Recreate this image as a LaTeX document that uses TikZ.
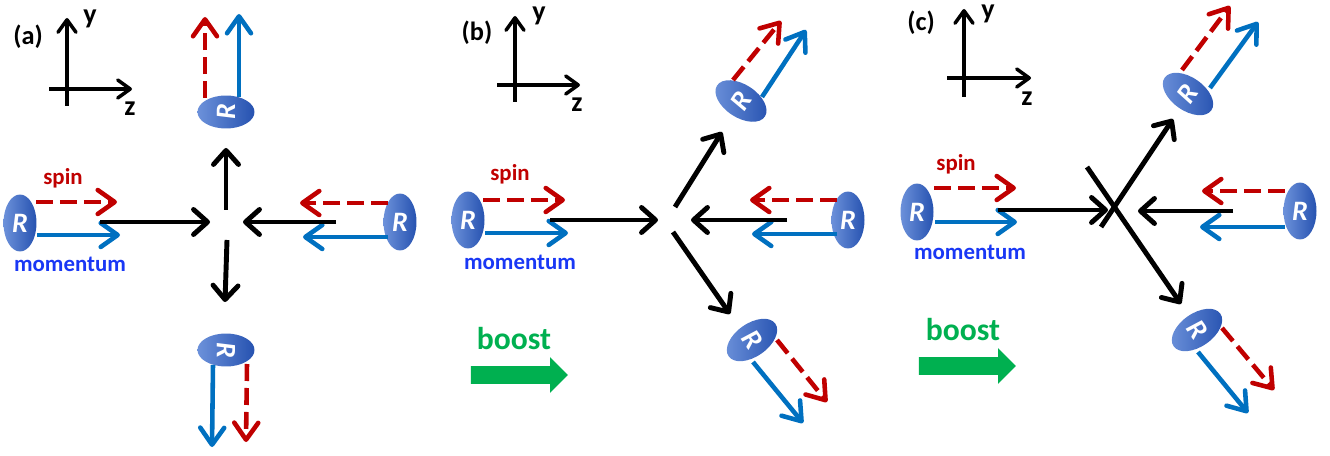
\documentclass[tikz,border=0pt]{standalone}
\usepackage{fontspec}
\setmainfont{Carlito}
\usetikzlibrary{positioning,arrows.meta,shapes.geometric,shapes.arrows}

\definecolor{spinred}{RGB}{192,0,0}
\definecolor{momblue}{RGB}{0,112,192}
\definecolor{labelblue}{RGB}{25,55,245}
\definecolor{boostgreen}{RGB}{0,176,80}
\definecolor{partlight}{RGB}{108,145,218}
\definecolor{partdark}{RGB}{38,82,176}

\begin{document}
\begin{tikzpicture}[
x=0.02cm,y=-0.02cm,
particle/.style={
ellipse,
minimum width=0.66cm,
minimum height=1.14cm,
inner sep=0pt,
left color=partlight,
right color=partdark,
text=white,
font=\fontsize{16}{16}\selectfont\bfseries\itshape
},
flowarrow/.style={
line width=2.8pt,
-{Straight Barb[length=2.8mm,width=5mm,round]}
},
spinarrow/.style={
spinred,
line width=2.6pt,
dash pattern=on 0.34cm off 0.14cm,
-{Straight Barb[length=3.4mm,width=4.8mm,round]}
},
momarrow/.style={
momblue,
line width=2.6pt,
-{Straight Barb[length=3.4mm,width=4.8mm,round]}
},
axisarrow/.style={
line width=2pt,
-{Straight Barb[length=2.5mm,width=3.6mm,round]}
},
panellabel/.style={font=\fontsize{15}{15}\selectfont\bfseries},
axislabel/.style={font=\fontsize{16}{16}\selectfont\bfseries},
spinlabel/.style={text=spinred,font=\fontsize{13}{13}\selectfont\bfseries},
momlabel/.style={text=labelblue,font=\fontsize{13}{13}\selectfont\bfseries},
boostlabel/.style={text=boostgreen,font=\fontsize{18}{18}\selectfont\bfseries},
boostarrow/.style={
single arrow,
fill=boostgreen,
minimum height=1.94cm,
inner xsep=0pt,
inner ysep=0.17cm,
single arrow head extend=0.18cm
}
]

\useasboundingbox (0,0) rectangle (1330,456);

%%%%%%%%%%%%%%%%%%%%%%%%%%%%%%%%%%%%%%%%%%%%%
% Panel (a)
%%%%%%%%%%%%%%%%%%%%%%%%%%%%%%%%%%%%%%%%%%%%%

\node[panellabel] (labA) at (28,37) {(a)};

\coordinate (aYfrom) at (67,106);
\coordinate (aYto) at (67,18);
\coordinate (aZfrom) at (49,89);
\coordinate (aZto) at (132,89);
\node[axislabel] (aY) at (90,19) {y};
\node[axislabel] (aZ) at (130,109) {z};

\node[particle] (aL) at (20,223) {R};
\node[particle] (aR) at (400,222) {R};
\node[particle,rotate=90] (aU) at (226,112) {R};
\node[particle,rotate=-90] (aD) at (226,350) {R};

\node[spinlabel] (aSpin) at (63,178) {spin};
\node[momlabel] (aMom) at (70,264) {momentum};

\coordinate (aLspinS) at (36,202);
\coordinate (aLspinE) at (117,202);
\coordinate (aLmomS) at (37,235);
\coordinate (aLmomE) at (120,235);
\coordinate (aLinS) at (100,222);
\coordinate (aLinE) at (210,222);

\coordinate (aRspinS) at (388,203);
\coordinate (aRspinE) at (300,203);
\coordinate (aRmomS) at (388,237);
\coordinate (aRmomE) at (303,237);
\coordinate (aRinS) at (336,222);
\coordinate (aRinE) at (243,222);

\coordinate (aUoutS) at (226,210);
\coordinate (aUoutE) at (226,148);
\coordinate (aUspinS) at (205,98);
\coordinate (aUspinE) at (205,17);
\coordinate (aUmomS) at (239,97);
\coordinate (aUmomE) at (239,14);

\coordinate (aDoutS) at (227,240);
\coordinate (aDoutE) at (225,302);
\coordinate (aDmomS) at (213,365);
\coordinate (aDmomE) at (212,447);
\coordinate (aDspinS) at (247,364);
\coordinate (aDspinE) at (246,442);

%%%%%%%%%%%%%%%%%%%%%%%%%%%%%%%%%%%%%%%%%%%%%
% Panel (b)
%%%%%%%%%%%%%%%%%%%%%%%%%%%%%%%%%%%%%%%%%%%%%

\node[panellabel] (labB) at (477,33) {(b)};

\coordinate (bYfrom) at (515,102);
\coordinate (bYto) at (515,16);
\coordinate (bZfrom) at (497,85);
\coordinate (bZto) at (580,85);
\node[axislabel] (bY) at (539,16) {y};
\node[axislabel] (bZ) at (577,105) {z};

\node[particle] (bL) at (468,220) {R};
\node[particle] (bR) at (848,220) {R};
\node[particle,rotate=57] (bU) at (741,101) {R};
\node[particle,rotate=-55] (bD) at (752,340) {R};

\node[spinlabel] (bSpin) at (510,174) {spin};
\node[momlabel] (bMom) at (520,262) {momentum};

\coordinate (bLspinS) at (483,200);
\coordinate (bLspinE) at (565,200);
\coordinate (bLmomS) at (485,233);
\coordinate (bLmomE) at (568,233);
\coordinate (bLinS) at (550,220);
\coordinate (bLinE) at (658,220);

\coordinate (bRspinS) at (837,200);
\coordinate (bRspinE) at (750,200);
\coordinate (bRmomS) at (837,234);
\coordinate (bRmomE) at (752,234);
\coordinate (bRinS) at (787,220);
\coordinate (bRinE) at (691,220);

\coordinate (bUoutS) at (675,207);
\coordinate (bUoutE) at (722,132);
\coordinate (bUspinS) at (733,80);
\coordinate (bUspinE) at (781,21);
\coordinate (bUmomS) at (762,97);
\coordinate (bUmomE) at (806,30);

\coordinate (bDoutS) at (673,232);
\coordinate (bDoutE) at (730,314);
\coordinate (bDmomS) at (753,362);
\coordinate (bDmomE) at (803,423);
\coordinate (bDspinS) at (777,340);
\coordinate (bDspinE) at (827,402);

\node[boostlabel] (bBoost) at (514,339) {boost};
\node[boostarrow] (bPush) at (515,375) {};

%%%%%%%%%%%%%%%%%%%%%%%%%%%%%%%%%%%%%%%%%%%%%
% Panel (c)
%%%%%%%%%%%%%%%%%%%%%%%%%%%%%%%%%%%%%%%%%%%%%

\node[panellabel] (labC) at (921,23) {(c)};

\coordinate (cYfrom) at (964,97);
\coordinate (cYto) at (964,9);
\coordinate (cZfrom) at (947,78);
\coordinate (cZto) at (1031,78);
\node[axislabel] (cY) at (988,14) {y};
\node[axislabel] (cZ) at (1027,99) {z};

\node[particle] (cL) at (917,212) {R};
\node[particle] (cR) at (1300,211) {R};
\node[particle,rotate=55] (cU) at (1188,94) {R};
\node[particle,rotate=-55] (cD) at (1197,330) {R};

\node[spinlabel] (cSpin) at (956,164) {spin};
\node[momlabel] (cMom) at (970,252) {momentum};

\coordinate (cLspinS) at (934,188);
\coordinate (cLspinE) at (1016,188);
\coordinate (cLmomS) at (935,222);
\coordinate (cLmomE) at (1017,222);
\coordinate (cLinS) at (998,210);
\coordinate (cLinE) at (1108,210);

\coordinate (cRspinS) at (1285,191);
\coordinate (cRspinE) at (1202,191);
\coordinate (cRmomS) at (1285,227);
\coordinate (cRmomE) at (1200,227);
\coordinate (cRinS) at (1233,211);
\coordinate (cRinE) at (1138,211);

\coordinate (cUoutS) at (1101,227);
\coordinate (cUoutE) at (1173,119);
\coordinate (cUspinS) at (1182,70);
\coordinate (cUspinE) at (1230,6);
\coordinate (cUmomS) at (1210,88);
\coordinate (cUmomE) at (1258,22);

\coordinate (cDoutS) at (1087,167);
\coordinate (cDoutE) at (1181,304);
\coordinate (cDmomS) at (1198,352);
\coordinate (cDmomE) at (1248,413);
\coordinate (cDspinS) at (1222,328);
\coordinate (cDspinE) at (1274,390);

\node[boostlabel] (cBoost) at (963,330) {boost};
\node[boostarrow] (cPush) at (963,366) {};

%%%%%%%%%%%%%%%%%%%%%%%%%%%%%%%%%%%%%%%%%%%%%
% Connections
%%%%%%%%%%%%%%%%%%%%%%%%%%%%%%%%%%%%%%%%%%%%%

\foreach \p in {a,b,c}{
\draw[axisarrow] (\p Yfrom)--(\p Yto);
\draw[axisarrow] (\p Zfrom)--(\p Zto);
\foreach \s in {L,R,U,D}{
\draw[spinarrow] (\p\s spinS)--(\p\s spinE);
\draw[momarrow] (\p\s momS)--(\p\s momE);
}
\draw[flowarrow] (\p LinS)--(\p LinE);
\draw[flowarrow] (\p RinS)--(\p RinE);
\draw[flowarrow] (\p UoutS)--(\p UoutE);
\draw[flowarrow] (\p DoutS)--(\p DoutE);
}

\end{tikzpicture}
\end{document}
